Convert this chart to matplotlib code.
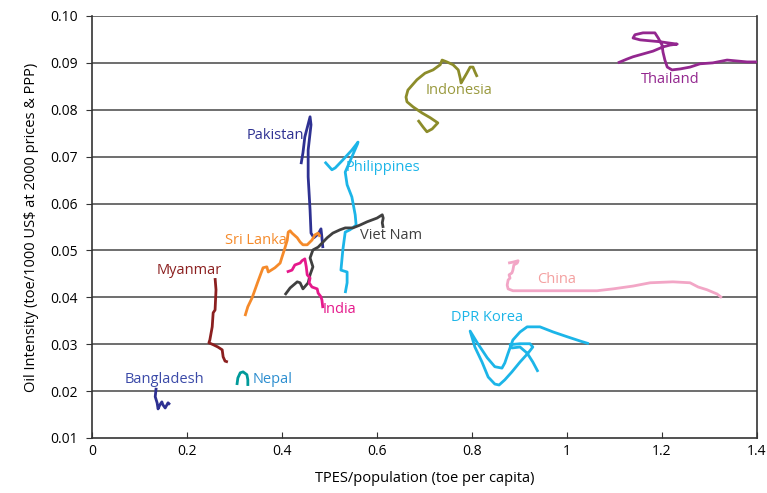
import matplotlib
matplotlib.use("Agg")
import matplotlib.pyplot as plt

plt.rcParams["font.family"] = ["Open Sans", "DejaVu Sans"]

# trajectories (TPES per capita, oil intensity)
pakistan_x = [0.440, 0.444, 0.448, 0.459, 0.461, 0.455, 0.455, 0.459, 0.461, 0.467, 0.476, 0.482, 0.484, 0.486]
pakistan_y = [0.0684, 0.0708, 0.0742, 0.0785, 0.0768, 0.0714, 0.0657, 0.0586, 0.0537, 0.0527, 0.0535, 0.0546, 0.0527, 0.0505]

philippines_x = [0.490, 0.505, 0.512, 0.528, 0.547, 0.560, 0.558, 0.533, 0.537, 0.547, 0.554, 0.556,
                 0.543, 0.533, 0.528, 0.524, 0.537, 0.537, 0.533]
philippines_y = [0.0689, 0.0672, 0.0676, 0.0693, 0.0714, 0.0731, 0.0725, 0.0667, 0.0640, 0.0614, 0.0576, 0.0554,
                 0.0544, 0.0539, 0.0501, 0.0458, 0.0454, 0.0431, 0.0409]

vietnam_x = [0.406, 0.417, 0.432, 0.438, 0.444, 0.455, 0.459, 0.465, 0.459, 0.465, 0.476, 0.495,
             0.507, 0.522, 0.533, 0.549, 0.564, 0.579, 0.600, 0.611, 0.613, 0.611, 0.613]
vietnam_y = [0.0405, 0.0420, 0.0433, 0.0431, 0.0418, 0.0431, 0.0448, 0.0465, 0.0484, 0.0501, 0.0507, 0.0527,
             0.0537, 0.0544, 0.0548, 0.0548, 0.0554, 0.0561, 0.0569, 0.0576, 0.0569, 0.0559, 0.0548]

india_x = [0.410, 0.421, 0.427, 0.438, 0.442, 0.448, 0.451, 0.453, 0.459, 0.457, 0.463, 0.474, 0.476, 0.482, 0.484, 0.486]
india_y = [0.0454, 0.0458, 0.0469, 0.0473, 0.0478, 0.0482, 0.0465, 0.0448, 0.0441, 0.0431, 0.0422, 0.0418,
           0.0409, 0.0401, 0.0394, 0.0377]

srilanka_x = [0.322, 0.328, 0.337, 0.343, 0.349, 0.360, 0.368, 0.371, 0.385, 0.396, 0.400, 0.406,
              0.411, 0.413, 0.417, 0.421, 0.432, 0.438, 0.444, 0.453, 0.463, 0.469, 0.476, 0.480]
srilanka_y = [0.0360, 0.0380, 0.0399, 0.0416, 0.0433, 0.0463, 0.0465, 0.0454, 0.0463, 0.0473, 0.0486, 0.0505,
              0.0522, 0.0539, 0.0542, 0.0537, 0.0527, 0.0518, 0.0512, 0.0512, 0.0522, 0.0533, 0.0537, 0.0529]

myanmar_x = [0.259, 0.261, 0.259, 0.255, 0.253, 0.248, 0.246, 0.255, 0.265, 0.274, 0.276, 0.280, 0.286]
myanmar_y = [0.0441, 0.0416, 0.0373, 0.0367, 0.0337, 0.0309, 0.0303, 0.0299, 0.0294, 0.0288, 0.0273, 0.0264, 0.0262]

bangladesh_x = [0.135, 0.133, 0.137, 0.139, 0.143, 0.147, 0.149, 0.154, 0.160, 0.164]
bangladesh_y = [0.0207, 0.0188, 0.0175, 0.0162, 0.0171, 0.0177, 0.0171, 0.0164, 0.0175, 0.0171]

nepal_x = [0.305, 0.307, 0.312, 0.318, 0.326, 0.328, 0.328]
nepal_y = [0.0213, 0.0228, 0.0239, 0.0241, 0.0235, 0.0224, 0.0211]

indonesia_x = [0.686, 0.697, 0.705, 0.716, 0.728, 0.712, 0.695, 0.676, 0.663, 0.661, 0.665, 0.684, 0.701,
               0.718, 0.733, 0.737, 0.747, 0.760, 0.771, 0.775, 0.777, 0.781, 0.789, 0.796, 0.802, 0.806, 0.811]
indonesia_y = [0.0778, 0.0763, 0.0753, 0.0759, 0.0772, 0.0783, 0.0793, 0.0806, 0.0817, 0.0827, 0.0842, 0.0864,
               0.0878, 0.0885, 0.0896, 0.0906, 0.0902, 0.0896, 0.0885, 0.0868, 0.0857, 0.0864, 0.0878, 0.0891,
               0.0891, 0.0881, 0.0870]

thailand_x = [1.107, 1.126, 1.139, 1.160, 1.181, 1.202, 1.217, 1.232, 1.217, 1.196, 1.175, 1.154, 1.139,
              1.143, 1.160, 1.185, 1.192, 1.200, 1.202, 1.206, 1.211, 1.221, 1.238, 1.259, 1.280, 1.307,
              1.337, 1.358, 1.379, 1.400]
thailand_y = [0.0900, 0.0908, 0.0913, 0.0919, 0.0925, 0.0934, 0.0938, 0.0940, 0.0942, 0.0945, 0.0947, 0.0949,
              0.0953, 0.0960, 0.0964, 0.0964, 0.0953, 0.0938, 0.0923, 0.0906, 0.0891, 0.0885, 0.0887, 0.0891,
              0.0898, 0.0900, 0.0906, 0.0904, 0.0902, 0.0902]

china_x = [0.876, 0.886, 0.897, 0.895, 0.888, 0.886, 0.884, 0.878, 0.880, 0.876, 0.874, 0.876, 0.886,
           0.916, 0.958, 1.013, 1.063, 1.097, 1.139, 1.175, 1.223, 1.259, 1.276, 1.295, 1.316, 1.326]
china_y = [0.0473, 0.0475, 0.0478, 0.0473, 0.0469, 0.0458, 0.0452, 0.0448, 0.0441, 0.0437, 0.0426, 0.0418,
           0.0414, 0.0414, 0.0414, 0.0414, 0.0414, 0.0418, 0.0424, 0.0431, 0.0433, 0.0431, 0.0422, 0.0416,
           0.0407, 0.0399]

dprk_x = [1.046, 1.027, 1.000, 0.971, 0.943, 0.916, 0.901, 0.886, 0.876, 0.869, 0.863, 0.848, 0.832,
          0.811, 0.796, 0.806, 0.821, 0.834, 0.848, 0.857, 0.869, 0.884, 0.901, 0.918, 0.928, 0.922,
          0.901, 0.880, 0.884, 0.901, 0.916, 0.928, 0.939]
dprk_y = [0.0301, 0.0307, 0.0316, 0.0326, 0.0337, 0.0337, 0.0326, 0.0309, 0.0281, 0.0260, 0.0249, 0.0252,
          0.0271, 0.0303, 0.0328, 0.0294, 0.0262, 0.0230, 0.0215, 0.0213, 0.0224, 0.0241, 0.0262, 0.0281,
          0.0294, 0.0301, 0.0301, 0.0299, 0.0292, 0.0294, 0.0281, 0.0262, 0.0241]

series = [
    ("Pakistan", pakistan_x, pakistan_y, "#2e3192", "#2e3192", (0.326, 0.0746)),
    ("Philippines", philippines_x, philippines_y, "#1cb5e8", "#1cb5e8", (0.533, 0.0676)),
    ("Viet Nam", vietnam_x, vietnam_y, "#404040", "#404040", (0.564, 0.0531)),
    ("India", india_x, india_y, "#e5198b", "#e5198b", (0.486, 0.0375)),
    ("Sri Lanka", srilanka_x, srilanka_y, "#f58a2a", "#f58a2a", (0.280, 0.0522)),
    ("Myanmar", myanmar_x, myanmar_y, "#8b1f1f", "#8b1f1f", (0.135, 0.0458)),
    ("Bangladesh", bangladesh_x, bangladesh_y, "#2e3192", "#3b4aa8", (0.069, 0.0224)),
    ("Nepal", nepal_x, nepal_y, "#009a9a", "#2e8fd0", (0.339, 0.0224)),
    ("Indonesia", indonesia_x, indonesia_y, "#8c8c2a", "#99993d", (0.703, 0.0842)),
    ("Thailand", thailand_x, thailand_y, "#93278f", "#93278f", (1.156, 0.0864)),
    ("China", china_x, china_y, "#f2a6c6", "#f4a0a0", (0.937, 0.0437)),
    ("DPR Korea", dprk_x, dprk_y, "#1cb5e8", "#1cb5e8", (0.756, 0.0356)),
]

fig = plt.figure(figsize=(7.67, 4.93), dpi=100)
ax = fig.add_axes([0.12, 0.1116, 0.867, 0.856])

for y in [0.02, 0.03, 0.04, 0.05, 0.06, 0.07, 0.08, 0.09, 0.10]:
    ax.axhline(y, color="#555555", linewidth=1.2, zorder=1)

for name, xs, ys, lc, tc, (tx, ty) in series:
    ax.plot(xs, ys, color=lc, linewidth=2.0, zorder=3, solid_capstyle="butt")
    ax.text(tx, ty, name, color=tc, fontsize=10.5, va="center", ha="left", zorder=4)

ax.set_xlim(0, 1.4)
ax.set_ylim(0.01, 0.10)
ax.set_xticks([0, 0.2, 0.4, 0.6, 0.8, 1.0, 1.2, 1.4])
ax.set_xticklabels(["0", "0.2", "0.4", "0.6", "0.8", "1", "1.2", "1.4"])
ax.set_yticks([0.01, 0.02, 0.03, 0.04, 0.05, 0.06, 0.07, 0.08, 0.09, 0.10])
ax.set_yticklabels(["0.01", "0.02", "0.03", "0.04", "0.05", "0.06", "0.07", "0.08", "0.09", "0.10"])
ax.tick_params(axis="x", direction="in", length=4, color="#333333", labelsize=10, pad=4)
ax.tick_params(axis="y", direction="out", length=4, color="#333333", labelsize=10, pad=6)
ax.spines["top"].set_visible(False)
for s in ["left", "bottom", "right"]:
    ax.spines[s].set_color("#333333")
    ax.spines[s].set_linewidth(1.2)

ax.set_xlabel("TPES/population (toe per capita)", fontsize=10.5, labelpad=9)
ax.set_ylabel("Oil Intensity (toe/1000 US$ at 2000 prices & PPP)", fontsize=10.5, labelpad=8)

fig.savefig("out.png", dpi=100)
